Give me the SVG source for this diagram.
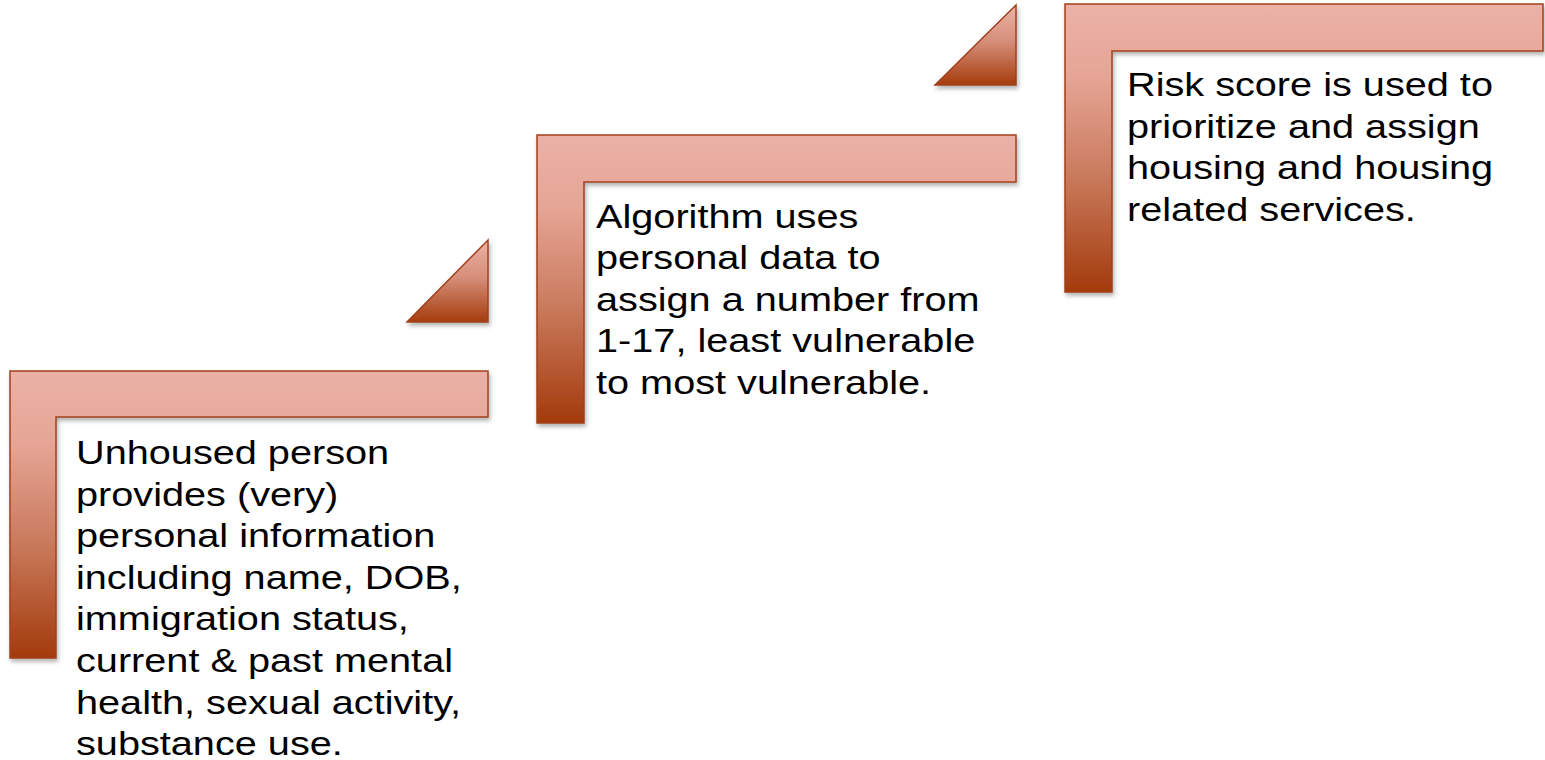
<svg xmlns="http://www.w3.org/2000/svg" width="1545" height="760" viewBox="0 0 1545 760">
<defs>
<linearGradient id="gL" x1="0" y1="0" x2="0" y2="1">
<stop offset="0" stop-color="#ebb1a7"/>
<stop offset="0.25" stop-color="#e6a596"/>
<stop offset="0.6" stop-color="#c97a5c"/>
<stop offset="1" stop-color="#a33a0c"/>
</linearGradient>
<linearGradient id="gT" x1="0" y1="0" x2="0" y2="1">
<stop offset="0" stop-color="#ecb2a6"/>
<stop offset="0.45" stop-color="#d68f7a"/>
<stop offset="1" stop-color="#a63c0e"/>
</linearGradient>
<filter id="sh" x="-10%" y="-10%" width="130%" height="130%">
<feDropShadow dx="1.5" dy="3" stdDeviation="2" flood-color="#000" flood-opacity="0.3"/>
</filter>
<style>
.l{fill:url(#gL);stroke:#a3401c;stroke-width:1.5;stroke-linejoin:miter;filter:url(#sh)}
.t{fill:url(#gT);stroke:#a3401c;stroke-width:1.5;filter:url(#sh)}
.tx{font-family:"Liberation Sans",Arial,sans-serif;font-size:34px;fill:#000}
</style>
</defs>
<g id="connectors">
<path class="t" d="M488,240 L488,322 L407,322 Z"/>
<path class="t" d="M1016,5 L1016,85 L935,85 Z"/>
</g>
<g id="step1">
<path class="l" d="M10,371 L488,371 L488,417 L56,417 L56,658 L10,658 Z"/>
<g transform="translate(76,0) scale(1.167,1)">
<text class="tx" x="0" y="464">Unhoused person</text>
<text class="tx" x="0" y="505.6">provides (very)</text>
<text class="tx" x="0" y="547.2">personal information</text>
<text class="tx" x="0" y="588.8">including name, DOB,</text>
<text class="tx" x="0" y="630.4">immigration status,</text>
<text class="tx" x="0" y="672">current &amp; past mental</text>
<text class="tx" x="0" y="713.6">health, sexual activity,</text>
<text class="tx" x="0" y="755.2">substance use.</text>
</g>
</g>
<g id="step2">
<path class="l" d="M537,135 L1016,135 L1016,182 L584,182 L584,423 L537,423 Z"/>
<g transform="translate(596,0) scale(1.167,1)">
<text class="tx" x="0" y="228">Algorithm uses</text>
<text class="tx" x="0" y="269.5">personal data to</text>
<text class="tx" x="0" y="311">assign a number from</text>
<text class="tx" x="0" y="352.5">1-17, least vulnerable</text>
<text class="tx" x="0" y="394">to most vulnerable.</text>
</g>
</g>
<g id="step3">
<path class="l" d="M1065,4 L1543,4 L1543,51 L1112,51 L1112,292 L1065,292 Z"/>
<g transform="translate(1127,0) scale(1.167,1)">
<text class="tx" x="0" y="96.5">Risk score is used to</text>
<text class="tx" x="0" y="138">prioritize and assign</text>
<text class="tx" x="0" y="179.5">housing and housing</text>
<text class="tx" x="0" y="221">related services.</text>
</g>
</g>
</svg>
